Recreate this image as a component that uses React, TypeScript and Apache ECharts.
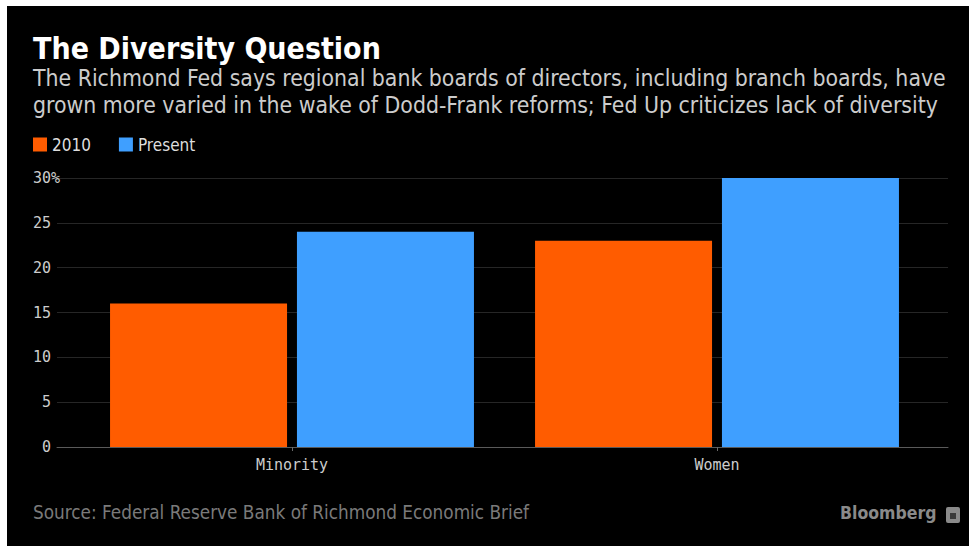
import React, { useEffect, useRef } from "react";
import * as echarts from "echarts";

const categories = ["Minority", "Women"];
const series2010 = [16, 23];
const seriesPresent = [24, 30];
const yTicks = [0, 5, 10, 15, 20, 25, 30];
const titleText = "The Diversity Question";
const subtitleLines = [
  "The Richmond Fed says regional bank boards of directors, including branch boards, have",
  "grown more varied in the wake of Dodd-Frank reforms; Fed Up criticizes lack of diversity",
];
const sourceText = "Source: Federal Reserve Bank of Richmond Economic Brief";

const ORANGE = "#ff5c00";
const BLUE = "#3f9fff";
const SANS = "'DejaVu Sans Condensed', 'DejaVu Sans', sans-serif";
const MONO = "'DejaVu Sans Mono', monospace";

export default function App() {
  const ref = useRef<HTMLDivElement>(null);
  useEffect(() => {
    if (!ref.current) return;
    const chart = echarts.init(ref.current, null, { renderer: "svg" });
    const yMax = yTicks[yTicks.length - 1];
    chart.setOption({
      animation: false,
      backgroundColor: "#000",
      legend: {
        left: 21,
        top: 125,
        itemWidth: 14,
        itemHeight: 14,
        itemGap: 28,
        icon: "rect",
        textStyle: { color: "#dddddd", fontFamily: SANS, fontSize: 17 },
        data: ["2010", "Present"],
      },
      grid: [
        { left: 50, top: 172, width: 891, height: 269 },
        { left: 72.5, top: 172, width: 850, height: 269 },
      ],
      xAxis: [
        {
          type: "category",
          gridIndex: 0,
          data: ["", ""],
          axisLine: { show: true, lineStyle: { color: "#5a5a5a", width: 1 } },
          axisTick: { show: false },
          axisLabel: { show: false },
          splitLine: { show: false },
        },
        {
          type: "category",
          gridIndex: 1,
          data: categories,
          axisLine: { show: false },
          axisTick: { show: true, alignWithLabel: true, length: 4, lineStyle: { color: "#6a6a6a" } },
          axisLabel: { color: "#cccccc", fontFamily: MONO, fontSize: 15, margin: 10 },
        },
      ],
      yAxis: [
        {
          type: "value",
          gridIndex: 0,
          min: 0,
          max: yMax,
          interval: 5,
          axisLine: { show: false },
          axisTick: { show: false },
          splitLine: { show: true, lineStyle: { color: "#262626", width: 1 } },
          axisLabel: {
            color: "#cccccc",
            fontFamily: MONO,
            fontSize: 15,
            margin: -3,
            formatter: (v: number) => (v === yMax ? v + "%" : v + "\u00a0"),
          },
        },
        {
          type: "value",
          gridIndex: 1,
          min: 0,
          max: yMax,
          interval: 5,
          show: false,
          splitLine: { show: false },
        },
      ],
      series: [
        {
          name: "2010",
          type: "bar",
          xAxisIndex: 1,
          yAxisIndex: 1,
          data: series2010,
          barWidth: 177,
          barGap: "5.6%",
          itemStyle: { color: ORANGE },
        },
        {
          name: "Present",
          type: "bar",
          xAxisIndex: 1,
          yAxisIndex: 1,
          data: seriesPresent,
          barWidth: 177,
          barGap: "5.6%",
          itemStyle: { color: BLUE },
        },
      ],
      graphic: [
        {
          type: "text",
          left: 26,
          top: 27,
          style: {
            text: titleText,
            fill: "#ffffff",
            font: `bold 30px ${SANS}`,
          },
        },
        {
          type: "text",
          left: 26,
          top: 60,
          style: {
            text: subtitleLines[0],
            fill: "#cccccc",
            font: `22.8px ${SANS}`,
          },
        },
        {
          type: "text",
          left: 26,
          top: 87,
          style: {
            text: subtitleLines[1],
            fill: "#cccccc",
            font: `22.8px ${SANS}`,
          },
        },
        {
          type: "text",
          left: 26,
          top: 497,
          style: {
            text: sourceText,
            fill: "#7a7a7a",
            font: `18.8px ${SANS}`,
          },
        },
        {
          type: "text",
          left: 833,
          top: 498,
          style: {
            text: "Bloomberg",
            fill: "#8a8a8a",
            font: `bold 17.5px ${SANS}`,
          },
        },
        {
          type: "rect",
          left: 939,
          top: 501,
          shape: { width: 14, height: 16, r: 2 },
          style: { fill: "#8a8a8a" },
        },
        {
          type: "rect",
          left: 943,
          top: 507,
          shape: { width: 6, height: 6 },
          style: { fill: "#3a3a3a" },
        },
      ],
    });
    return () => chart.dispose();
  }, []);
  return (
    <div style={{ position: "absolute", left: 0, top: 0, width: 969, height: 546, background: "#fff" }}>
      <div ref={ref} style={{ position: "absolute", left: 7, top: 6, width: 962, height: 540 }} />
    </div>
  );
}
